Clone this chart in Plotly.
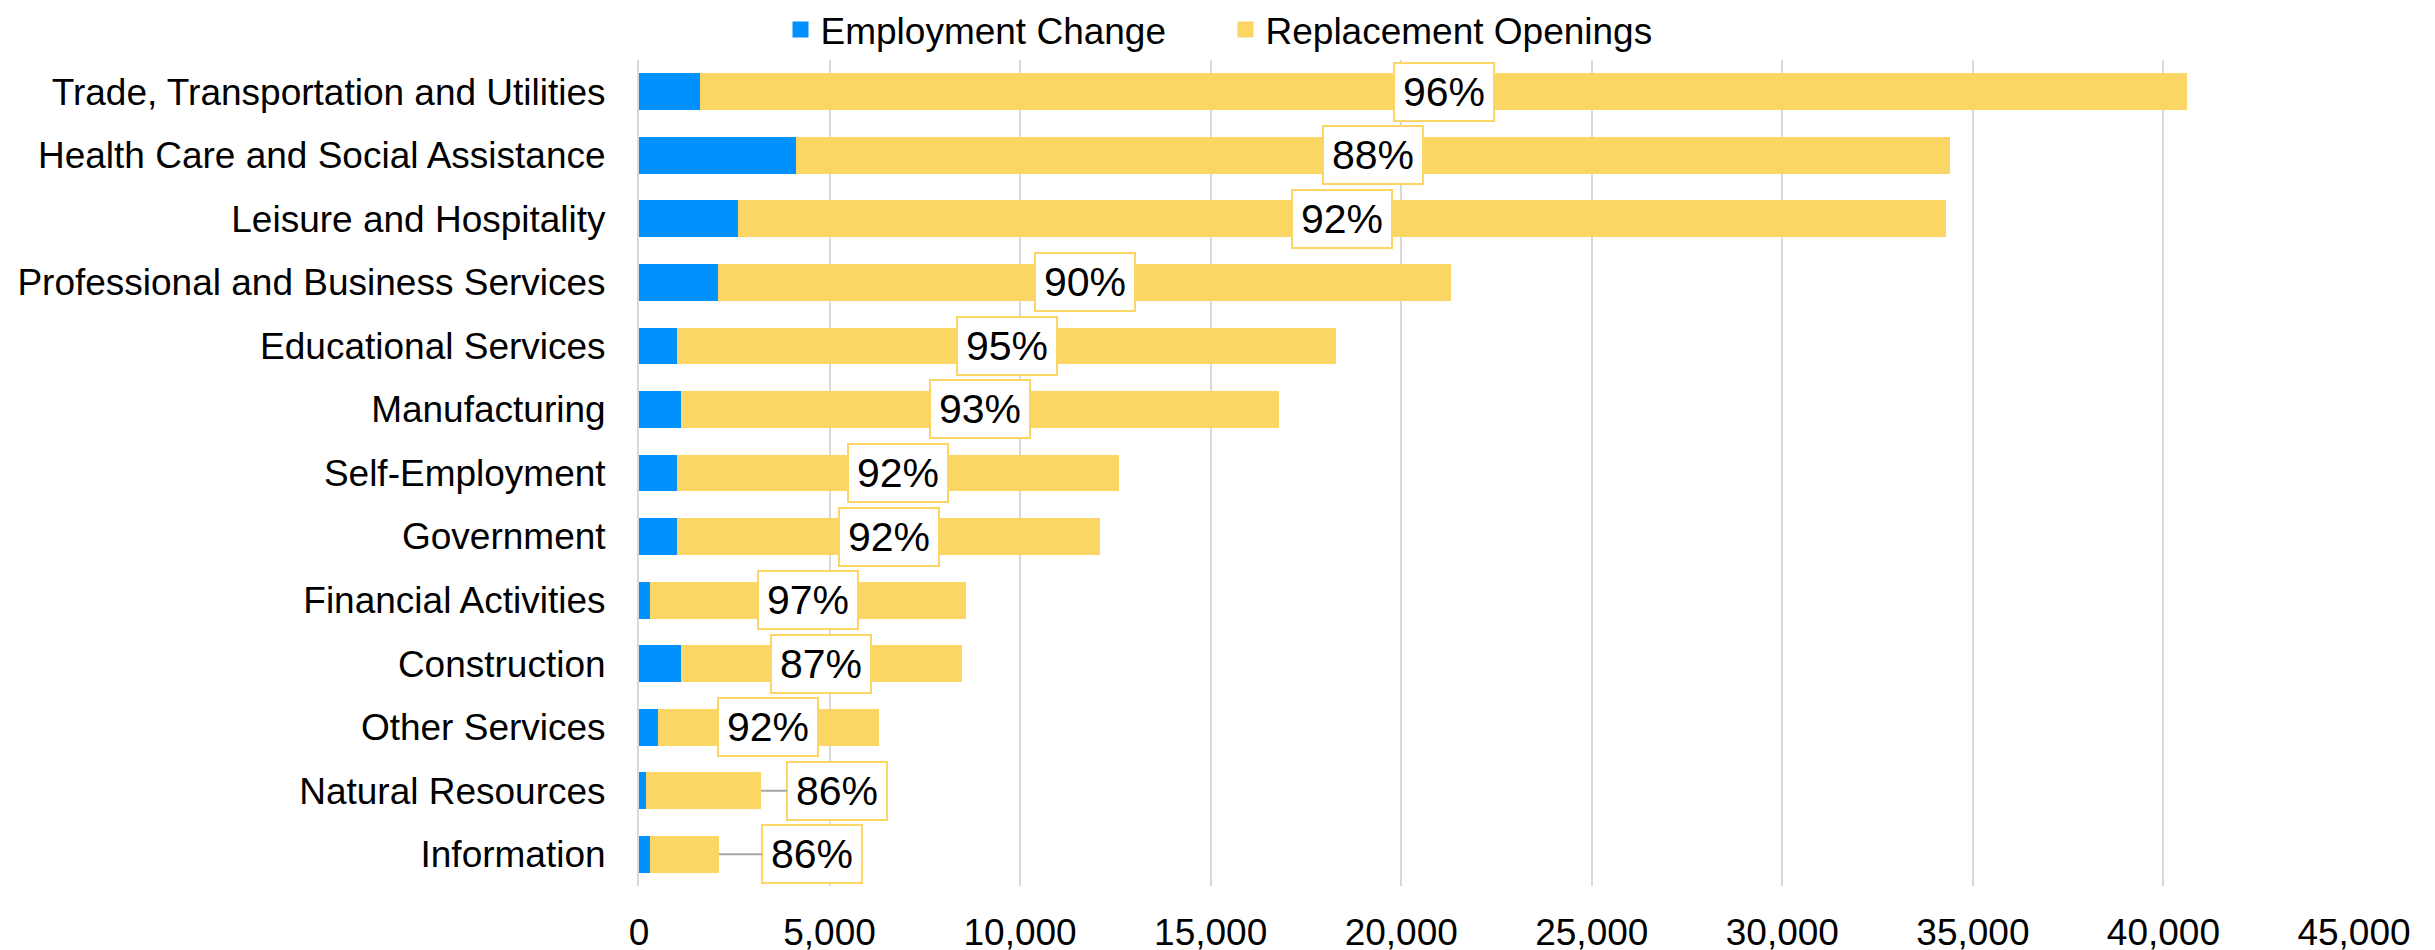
import plotly.graph_objects as go

categories = [
    "Trade, Transportation and Utilities",
    "Health Care and Social Assistance",
    "Leisure and Hospitality",
    "Professional and Business Services",
    "Educational Services",
    "Manufacturing",
    "Self-Employment",
    "Government",
    "Financial Activities",
    "Construction",
    "Other Services",
    "Natural Resources",
    "Information",
]
employment_change = [1610, 4110, 2600, 2080, 1000, 1090, 1000, 1000, 290, 1090, 500, 185, 290]
replacement_openings = [39010, 30290, 31700, 19220, 17300, 15710, 11600, 11100, 8300, 7390, 5790, 3015, 1810]
share_labels = ["96%", "88%", "92%", "90%", "95%", "93%", "92%", "92%", "97%", "87%", "92%", "86%", "86%"]
x_ticks = [0, 5000, 10000, 15000, 20000, 25000, 30000, 35000, 40000, 45000]

BLUE = "#0091FF"
YELLOW = "#FCD664"
FONT = "Liberation Sans, Arial, sans-serif"

# labels moved outside the bar (with leader line): category -> label x position
outside_label_x = {"Natural Resources": 5200, "Information": 4540}

fig = go.Figure()
fig.add_trace(go.Bar(y=categories, x=employment_change, orientation="h",
                     marker=dict(color=BLUE, line=dict(width=0)), showlegend=False,
                     name="Employment Change"))
fig.add_trace(go.Bar(y=categories, x=replacement_openings, orientation="h",
                     marker=dict(color=YELLOW, line=dict(width=0)), showlegend=False,
                     name="Replacement Openings"))
# legend entries
fig.add_trace(go.Scatter(x=[None], y=[None], mode="markers", name="Employment Change",
                         marker=dict(symbol="square", size=20, color=BLUE)))
fig.add_trace(go.Scatter(x=[None], y=[None], mode="markers", name="Replacement Openings",
                         marker=dict(symbol="square", size=20, color=YELLOW)))

annotations = []
for cat, ec, ro, lab in zip(categories, employment_change, replacement_openings, share_labels):
    common = dict(text=lab, font=dict(family=FONT, size=41, color="black"),
                  bgcolor="white", bordercolor=YELLOW, borderwidth=2, borderpad=5,
                  width=88, height=46, xref="x", yref="y")
    if cat in outside_label_x:
        annotations.append(dict(x=ec + ro, y=cat, ax=outside_label_x[cat], ay=cat,
                                axref="x", ayref="y", showarrow=True, arrowhead=0,
                                arrowwidth=2, arrowcolor="#A6A6A6", standoff=0, **common))
    else:
        annotations.append(dict(x=ec + ro / 2, y=cat, showarrow=False, **common))

fig.update_layout(
    width=2435, height=950,
    margin=dict(l=631, r=89, t=52, b=72, autoexpand=False),
    barmode="stack", bargap=0.42,
    paper_bgcolor="white", plot_bgcolor="white",
    font=dict(family=FONT, size=37, color="black"),
    legend=dict(orientation="h", xref="container", yref="container", x=0.5, xanchor="center",
                y=0.977, yanchor="middle", font=dict(size=37), entrywidth=400,
                traceorder="normal", itemclick=False, bgcolor="rgba(0,0,0,0)"),
    annotations=annotations,
)
fig.update_xaxes(range=[0, 45000], tickvals=x_ticks, tickformat=",d", automargin=False,
                 showgrid=True, gridcolor="#D9D9D9", gridwidth=2,
                 zeroline=False, showline=False, ticks="", ticklabelstandoff=21,
                 tickfont=dict(size=37))
fig.update_yaxes(autorange="reversed", showgrid=False, showline=True, linecolor="#D9D9D9",
                 automargin=False, linewidth=2, ticks="", ticklabelstandoff=24,
                 tickfont=dict(size=37))

fig.write_html("out.html")
